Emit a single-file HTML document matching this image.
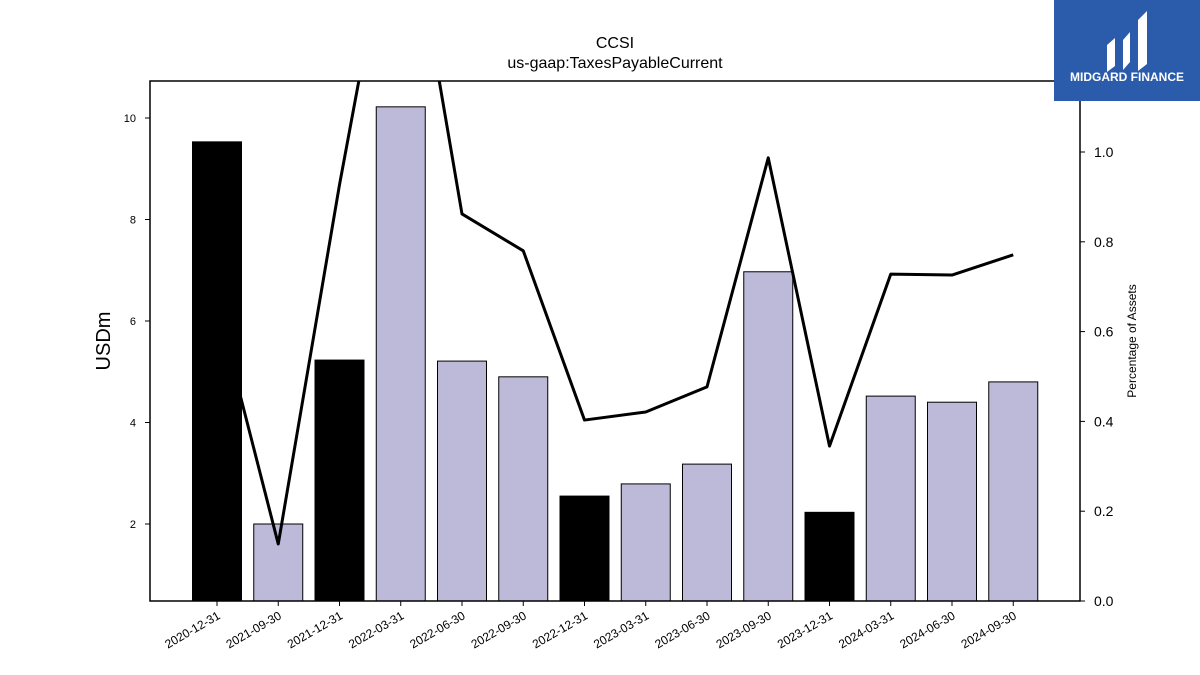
<!DOCTYPE html>
<html><head><meta charset="utf-8"><style>
html,body{margin:0;padding:0;background:#fff;width:1200px;height:675px;overflow:hidden;font-family:"Liberation Sans",sans-serif}
</style></head><body>
<svg id="chart" width="1200" height="675" xmlns="http://www.w3.org/2000/svg" font-family="Liberation Sans, sans-serif">
<text x="615" y="48" text-anchor="middle" font-size="16">CCSI</text>
<text x="615" y="68" text-anchor="middle" font-size="16">us-gaap:TaxesPayableCurrent</text>
<text transform="translate(110,341) rotate(-90)" text-anchor="middle" font-size="20">USDm</text>
<text transform="translate(1136,341) rotate(-90)" text-anchor="middle" font-size="12">Percentage of Assets</text>
<defs><clipPath id="plotclip"><rect x="150" y="81" width="930" height="520"/></clipPath></defs>
<g id="bars" clip-path="url(#plotclip)"></g>
<g id="line" clip-path="url(#plotclip)"></g>
<g id="axes"></g>
<rect x="150" y="81" width="930" height="520" fill="none" stroke="#000" stroke-width="1.5"/>
<g>
<rect x="1054" y="0" width="146" height="101" fill="#2b5bab"/>
<path d="M1107 45 L1115 38 L1115 66 L1107 72 Z M1123 40 L1130 32 L1130 62 L1123 70 Z M1138 20 L1147 11 L1147 64 L1138 71 Z" fill="#fff"/>
<text x="1127" y="81" text-anchor="middle" font-size="12" font-weight="bold" fill="#fff">MIDGARD FINANCE</text>
</g>
</svg>
<script>
const categories=["2020-12-31","2021-09-30","2021-12-31","2022-03-31","2022-06-30","2022-09-30","2022-12-31","2023-03-31","2023-06-30","2023-09-30","2023-12-31","2024-03-31","2024-06-30","2024-09-30"];
const barValues=[9.53,2.0,5.23,10.22,5.21,4.9,2.55,2.79,3.18,6.97,2.23,4.52,4.4,4.8];
const pctValues=[0.66,0.127,0.927,1.66,0.862,0.78,0.403,0.421,0.477,0.987,0.345,0.728,0.726,0.771];
const leftTicks=[2,4,6,8,10];
const rightTicks=[0.0,0.2,0.4,0.6,0.8,1.0];
const ns="http://www.w3.org/2000/svg";
const yL=v=>524-(v-2)*50.75;
const yR=v=>601-v*449;
const xC=i=>217+i*61.25;
function mk(t,a){const e=document.createElementNS(ns,t);for(const k in a)e.setAttribute(k,a[k]);return e;}
const bars=document.getElementById('bars'),line=document.getElementById('line'),axes=document.getElementById('axes');
categories.forEach((c,i)=>{
 const q4=c.endsWith('12-31');
 const y=yL(barValues[i]);
 const r=mk('rect',{x:xC(i)-24.5,y:y,width:49,height:601-y,fill:q4?'#000':'#bdbad9',stroke:'#000','stroke-width':1});
 
 
 bars.appendChild(r);
 const t=mk('line',{x1:xC(i),x2:xC(i),y1:601,y2:606,stroke:'#000'});
 
 
 axes.appendChild(t);
 const lb=mk('text',{transform:`translate(${xC(i)+4},${618}) rotate(-30)`,'text-anchor':'end','font-size':12});
 lb.textContent=c;
 
 
 axes.appendChild(lb);
});
const pl=mk('polyline',{points:pctValues.map((v,i)=>xC(i)+','+yR(v)).join(' '),fill:'none',stroke:'#000','stroke-width':3,'stroke-linejoin':'round'});


line.appendChild(pl);
leftTicks.forEach(v=>{
 const t=mk('line',{x1:145,x2:150,y1:yL(v),y2:yL(v),stroke:'#000'});
 
 
 axes.appendChild(t);
 const l=mk('text',{x:136,y:yL(v)+4,'text-anchor':'end','font-size':11});
 l.textContent=v;
 
 
 axes.appendChild(l);
});
rightTicks.forEach(v=>{
 const t=mk('line',{x1:1080,x2:1085,y1:yR(v),y2:yR(v),stroke:'#000'});
 
 
 axes.appendChild(t);
 const l=mk('text',{x:1094,y:yR(v)+5,'font-size':14});
 l.textContent=v.toFixed(1);
 
 
 axes.appendChild(l);
});
</script>
</body></html>
